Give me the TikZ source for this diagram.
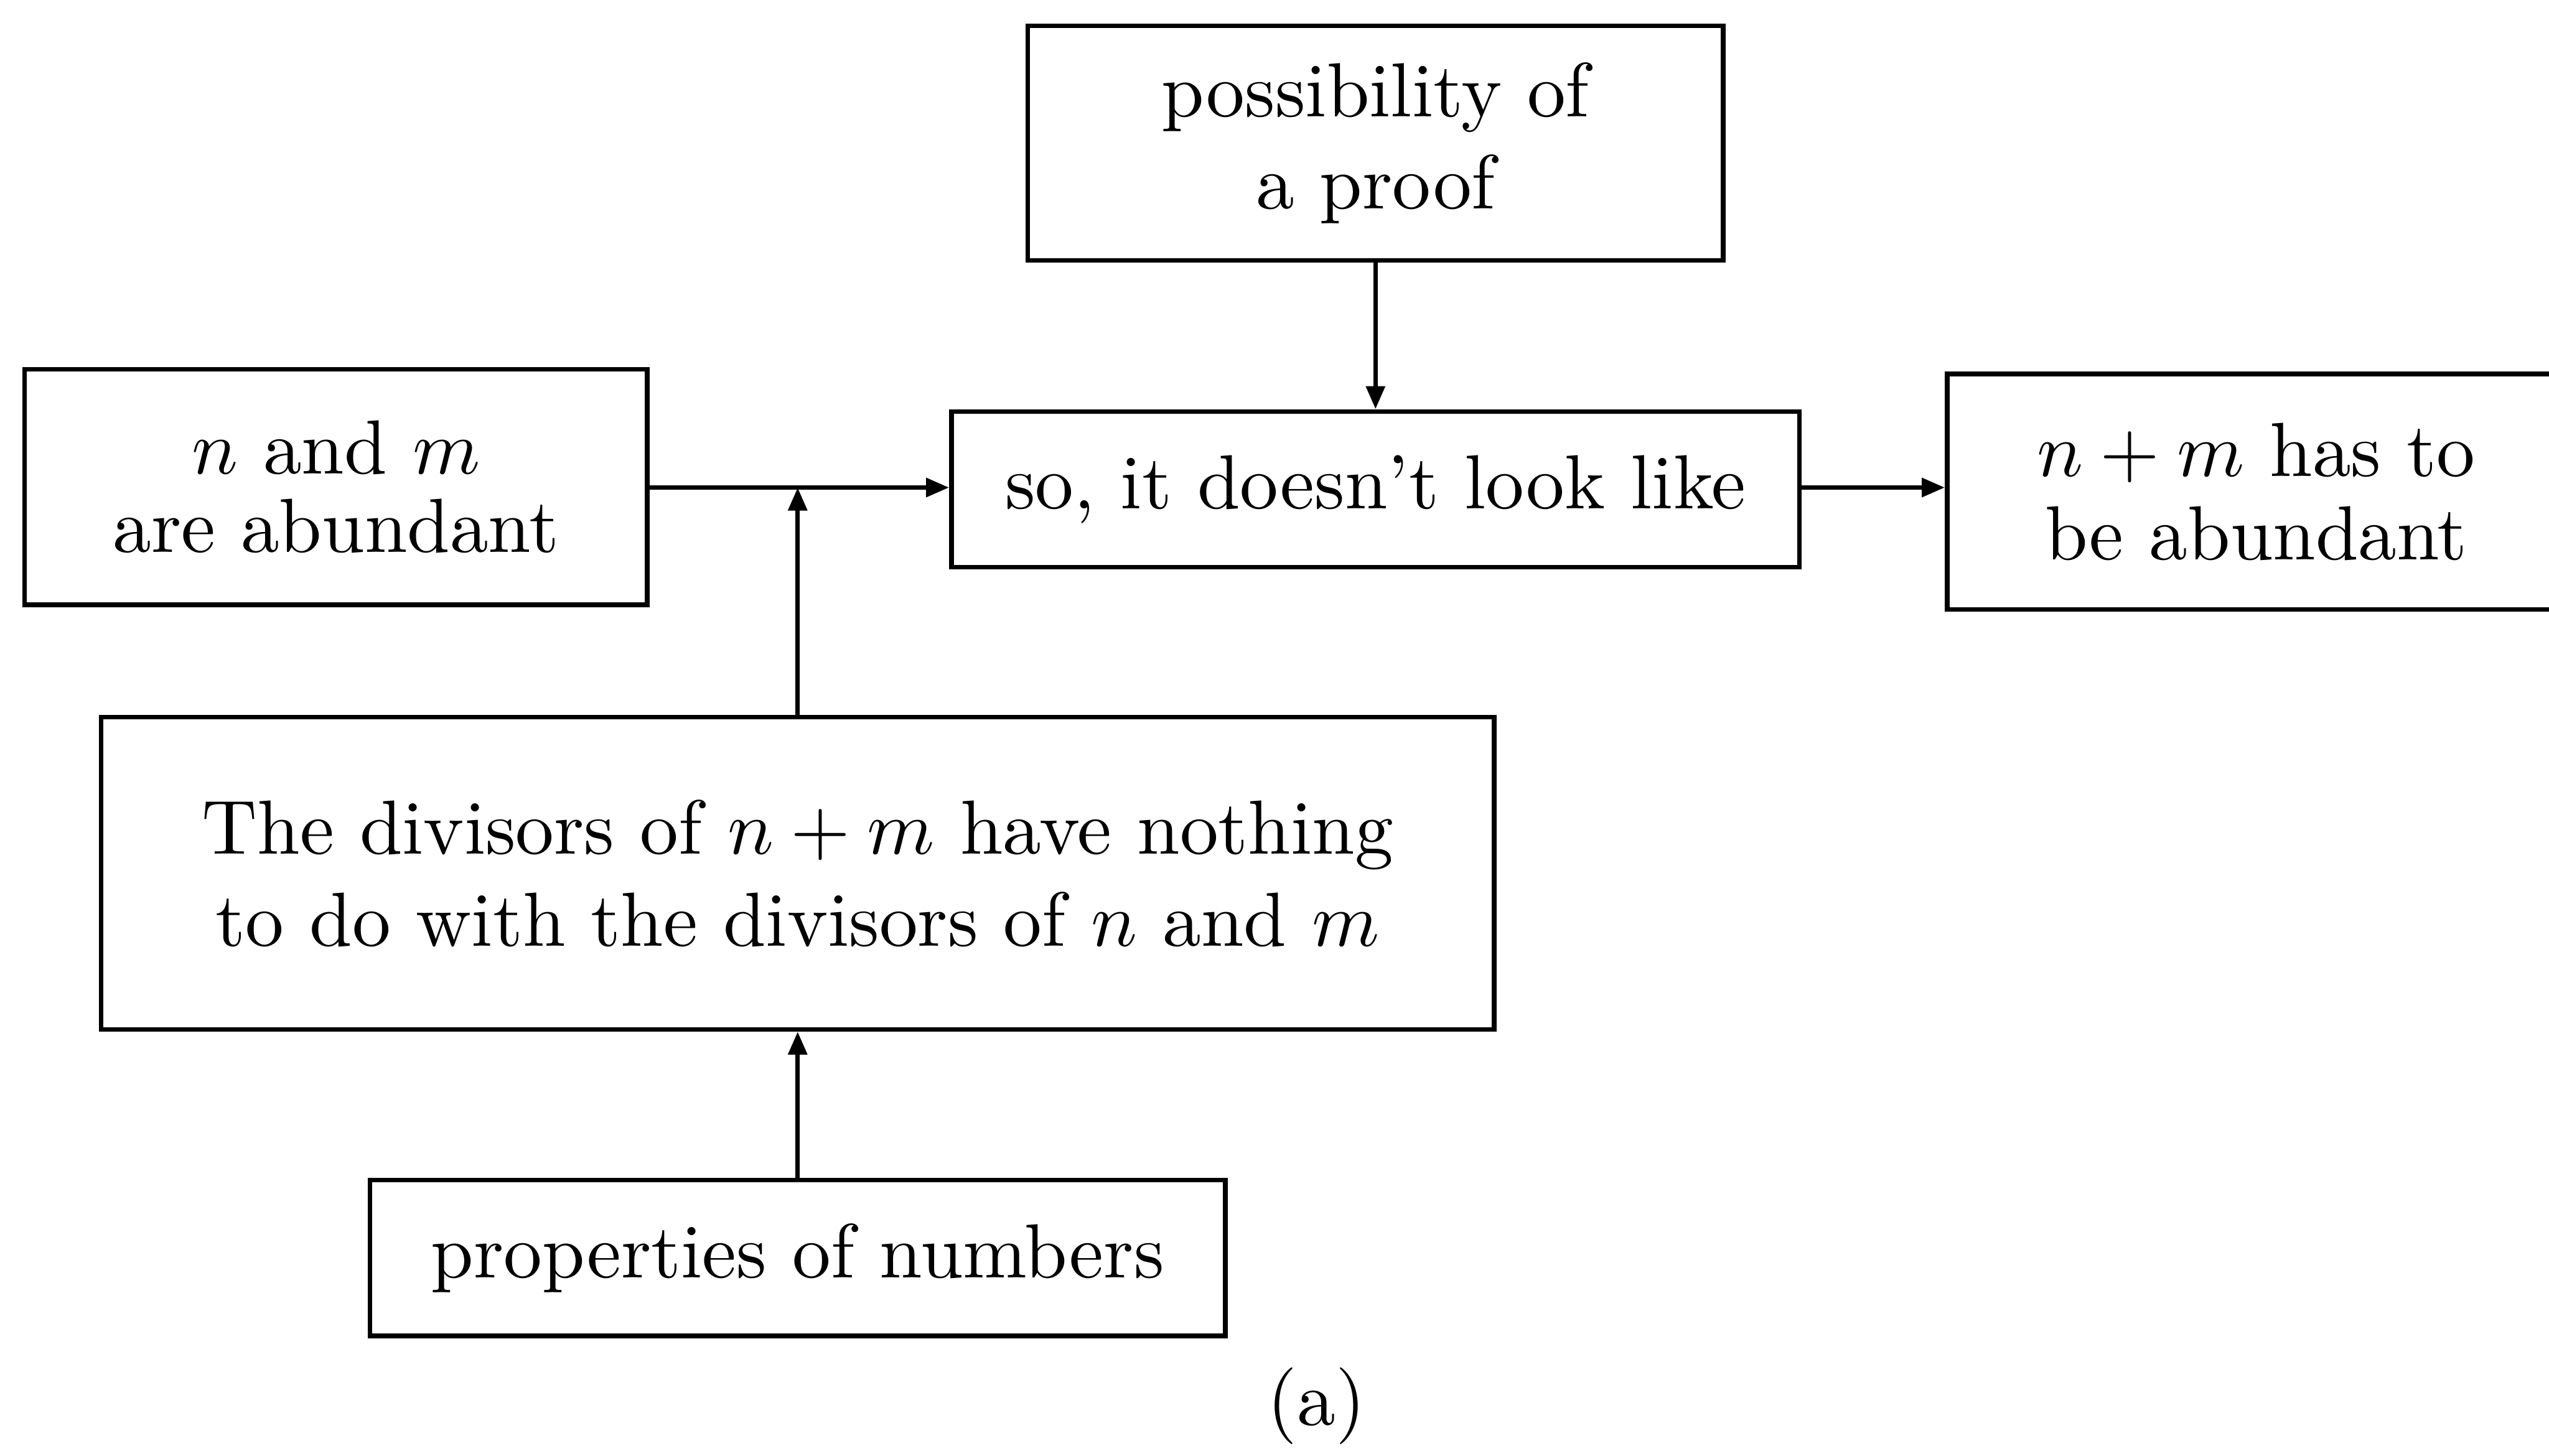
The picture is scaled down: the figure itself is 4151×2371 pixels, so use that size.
\documentclass[tikz,border=0pt]{standalone}
\usetikzlibrary{arrows.meta}
\begin{document}
\begin{tikzpicture}[x=0.08pt,y=-0.08pt,
  box/.style={draw,line width=0.6pt,rectangle,inner sep=0pt,align=center,font=\normalsize},
  arr/.style={line width=0.6pt,-{Triangle[length=3pt,width=2.4pt]}},
  ln/.style={line width=0.6pt}]
\clip (0,0) rectangle (4151,2371);
\useasboundingbox (0,0) rectangle (4151,2371);
\node[box,minimum width=90.6pt,minimum height=30.6pt] (proof) at (2240,233) {possibility of\\a proof};
\node[box,minimum width=81.1pt,minimum height=30.7pt,font={\fontsize{10}{10.2}\selectfont}] (left) at (547,793) {$n$ and $m$\\are abundant};
\node[box,minimum width=110.5pt,minimum height=20.3pt] (so) at (2240,797) {so, it doesn't look like};
\node[box,minimum width=80.5pt,minimum height=30.7pt,font={\fontsize{10}{10.9}\selectfont}] (right) at (3674,801) {$n+m$ has to\\be abundant};
\node[box,minimum width=181.5pt,minimum height=40.7pt] (div) at (1299,1422) {The divisors of $n+m$ have nothing\\to do with the divisors of $n$ and $m$};
\node[box,minimum width=111.4pt,minimum height=20.3pt] (prop) at (1299,2049) {properties of numbers};
\node[inner sep=0pt] (cap) at (2144,2290) {(a)};
\coordinate (j) at (1299,794);
\draw[arr] (proof.south) -- (so.north);
\draw[ln] (left.east |- j) -- (j);
\draw[arr] (j) -- (so.west |- j);
\draw[arr] (div.north) -- (j);
\draw[arr] (so.east |- j) -- (right.west |- j);
\draw[arr] (prop.north) -- (div.south);
\end{tikzpicture}
\end{document}
